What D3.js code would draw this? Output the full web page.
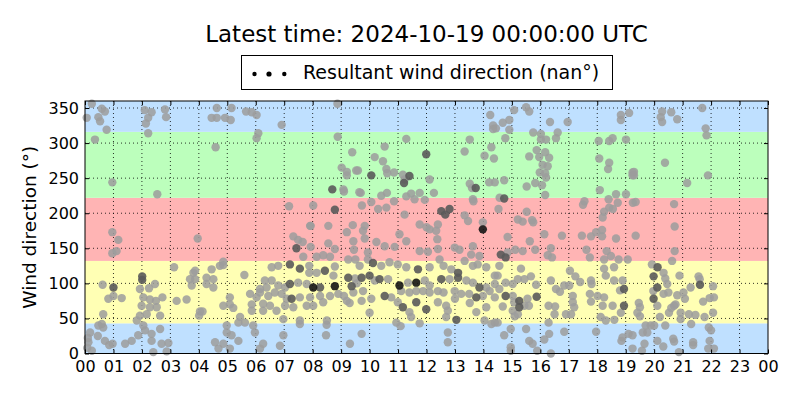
<!DOCTYPE html>
<html>
<head>
<meta charset="utf-8">
<script src="https://cdn.jsdelivr.net/npm/d3@7"></script>
<style>
  body { margin: 0; background: #fff; }
  text { font-family: "DejaVu Sans", sans-serif; }
</style>
</head>
<body>
<div id="chart"></div>
<script>
// chart data
var titleText = "Latest time: 2024-10-19 00:00:00 UTC";
var legendText = "Resultant wind direction (nan°)";
var yLabelText = "Wind direction (°)";
var yTicks = [0, 50, 100, 150, 200, 250, 300, 350];
var xTicks = d3.range(0, 25);
var xTickLabels = ["00","01","02","03","04","05","06","07","08","09","10","11","12",
                   "13","14","15","16","17","18","19","20","21","22","23","00"];
// sector edges (degrees) for the coloured bands
var bandEdges = [0, 43, 132, 222, 316, 360];

// [hour, direction, shade] shade: 0 light, 1 dark, 2 black
var points = [
  [0.24,356,0],[0.59,349,0],[0.70,345,0],[0.47,337,0],[0.53,331,0],[0.06,336,0],[0.76,319,0],[0.35,305,0],[0.96,244,0],
  [0.96,173,0],[1.17,162,0],[1.11,146,0],[0.96,143,0],[1.0,94,1],[1.0,82,0],[0.82,78,0],[1.29,79,0],[0.62,98,0],
  [0.64,56,0],[0.59,42,0],[0.64,37,0],[0.70,18,0],[0.97,14,0],[0.18,30,0],[0.12,16,0],[0.24,4,0],[0.47,40,0],
  [0.08,8,0],[0.10,22,0],[0.45,25,0],[0.85,12,0],
  [2.54,227,0],[2.34,344,0],[2.22,336,0],[2.81,348,0],[2.85,337,0],[2.22,314,0],[2.14,328,0],[2.10,347,0],
  [3.96,164,0],[3.13,123,0],[3.81,115,0],[3.87,106,0],[3.75,97,0],[4.27,108,0],[4.45,120,0],[4.51,94,0],[4.74,125,0],
  [2.01,110,1],[2.01,105,1],[1.93,92,0],[2.25,93,0],[2.46,99,0],[2.72,80,0],[2.49,75,0],[2.28,77,0],[2.05,80,0],
  [1.99,68,0],[2.28,66,0],[2.52,66,0],[2.64,54,0],[2.17,56,0],[1.93,54,0],[1.82,47,0],[2.11,33,0],[1.87,26,0],
  [1.64,18,0],[1.41,14,0],[2.34,18,0],[2.69,14,0],[2.93,15,0],[2.40,2,0],[2.87,3,0],[2.34,28,0],[2.64,35,0],[2.05,40,0],
  [3.22,75,0],[3.57,77,0],[4.04,60,0],[4.01,54,0],[4.13,60,0],[4.57,16,0],[4.69,7,0],[4.27,99,0],[4.51,106,0],
  [3.69,106,0],[3.87,118,0],
  [4.63,350,0],[4.45,336,0],[4.63,336,0],[4.59,294,0],
  [5.15,350,0],[4.92,336,0],[5.12,333,0],[5.66,345,0],[5.86,344,0],[6.03,340,0],[6.91,326,0],[6.09,314,0],[6.03,307,0],
  [8.87,356,0],[8.88,309,0],[9.39,287,0],[9.02,265,0],[9.20,259,0],[9.20,254,0],[9.53,261,0],[8.69,234,1],[9.08,234,0],
  [9.10,231,0],[9.64,230,0],[7.17,210,0],[8.02,211,0],[8.78,205,1],[7.93,182,0],[8.55,182,0],[9.41,183,0],
  [7.91,182,0],[7.32,167,0],[7.49,162,0],[7.65,159,0],[7.43,150,1],[7.93,152,0],[8.55,157,0],[8.78,149,0],[9.20,173,0],
  [9.43,160,0],[9.45,148,0],[7.67,138,0],[8.14,138,0],[8.37,140,0],[8.61,138,0],[9.25,134,0],[9.50,134,0],
  [4.86,131,0],[4.86,126,0],[5.60,112,0],[6.56,123,0],[6.79,125,0],[7.20,127,1],[7.55,121,1],[7.88,125,0],[7.88,115,0],
  [8.14,115,0],[8.43,118,1],[8.73,111,0],[8.78,124,0],[9.25,108,1],[9.49,107,0],[9.55,100,0],[9.37,96,1],[8.78,96,2],
  [8.02,94,2],[8.26,94,1],[7.79,99,0],[7.49,101,0],[7.20,99,1],[7.03,94,0],[6.79,97,0],[6.56,104,0],[6.32,104,0],
  [6.38,94,0],[6.15,92,0],[6.15,87,0],[6.44,82,0],[6.67,87,0],[6.91,85,0],[7.09,78,0],[7.26,78,1],[7.55,80,0],
  [7.91,80,0],[8.26,82,0],[8.61,82,0],[8.90,85,0],[9.10,82,0],[9.20,75,0],[9.43,87,0],[7.79,68,0],[8.02,68,0],
  [8.37,73,0],[7.32,66,0],[7.03,68,0],[6.73,61,0],[6.50,68,0],[6.26,61,0],[6.26,71,0],[5.80,85,0],[6.03,80,0],
  [5.86,70,0],[5.86,61,0],[5.09,80,0],[5.09,70,0],[5.21,65,0],[4.86,68,0],[5.45,52,0],[5.39,44,0],[5.62,44,0],
  [5.91,40,0],[5.97,30,0],[4.98,40,0],[4.98,30,0],[5.15,26,0],[4.86,14,0],[5.09,7,0],[5.39,18,0],[6.26,14,0],
  [6.15,7,0],[6.85,11,0],[6.97,26,0],[6.97,49,0],[7.55,42,0],[7.55,47,0],[8.49,41,0],[8.47,26,0],[9.31,14,0],
  [8.50,47,0],[9.30,72,0],
  [14.24,340,0],[14.34,325,0],[14.34,320,0],[11.29,306,0],[13.52,305,0],[10.53,295,0],[14.28,294,0],[13.34,288,0],
  [11.99,284,1],[14.04,282,0],[14.37,278,0],[10.18,280,0],[10.47,274,0],[10.59,263,0],[10.62,257,0],[10.86,258,0],
  [10.06,254,1],[9.59,261,0],[11.17,255,0],[11.40,253,1],[11.23,248,0],[11.21,243,1],[12.11,248,0],[9.69,229,0],
  [10.41,225,0],[10.61,229,0],[11.29,224,0],[11.46,228,0],[11.76,229,0],[11.58,220,0],[12.26,229,0],[11.94,219,0],
  [13.52,242,0],[13.73,236,1],[13.60,236,0],[13.63,220,0],[13.65,217,0],[14.40,244,0],[14.20,244,0],[9.73,211,0],
  [10.06,216,0],[10.30,206,0],[10.59,208,0],[10.86,217,0],[12.52,203,1],[12.66,198,1],[12.81,206,1],[13.34,197,0],
  [13.46,189,0],[13.98,187,0],[11.23,198,0],[11.76,184,0],[12.40,184,0],[9.83,182,0],[12.00,180,0],
  [13.98,177,2],[9.77,175,0],[9.83,164,0],[10.24,159,0],[10.53,153,0],[10.88,152,0],[11.05,170,0],[11.29,160,0],
  [12.11,177,0],[12.34,175,0],[12.38,163,0],[11.76,146,0],[12.05,145,0],[12.40,149,0],[12.99,151,0],[13.16,148,0],
  [13.63,153,0],[13.57,141,0],[13.86,139,0],[9.94,144,0],[9.94,134,0],[10.12,129,1],[9.65,125,0],[10.41,125,0],
  [10.70,130,0],[10.99,127,0],[11.29,123,0],[11.70,120,1],[12.11,123,0],[12.46,134,0],[12.60,125,0],[12.87,120,0],
  [13.11,115,1],[13.34,132,0],[13.63,125,0],[13.80,127,0],[14.10,123,0],[14.40,111,0],[9.72,108,1],[10.00,111,1],
  [10.18,104,0],[10.35,106,1],[10.65,106,0],[11.05,97,2],[11.35,101,0],[11.64,101,2],[11.94,104,0],[12.11,97,0],
  [12.52,106,1],[12.81,106,0],[13.11,108,1],[13.40,104,0],[13.63,101,0],[13.86,94,1],[14.10,94,0],[14.40,99,0],
  [9.77,89,0],[10.06,78,0],[10.53,82,1],[10.76,80,0],[11.11,89,0],[11.40,87,0],[11.64,89,0],[11.88,89,0],
  [12.11,87,0],[12.40,89,0],[12.60,87,0],[12.99,89,0],[13.22,85,0],[13.50,85,0],[13.75,80,1],[13.98,82,0],
  [14.22,89,0],[14.40,80,0],[9.72,75,0],[10.99,73,0],[11.17,66,1],[11.64,73,1],[11.99,63,1],[11.40,59,0],
  [11.46,52,0],[12.69,68,0],[12.75,61,0],[12.40,73,0],[13.00,78,0],[13.52,72,0],[13.75,59,0],[14.10,66,0],
  [14.04,47,0],[13.05,48,1],[12.69,52,0],[11.76,43,0],[10.94,44,0],[11.09,39,0],[10.00,58,0],[9.72,28,0],
  [12.75,16,0],[12.75,30,0],[14.28,42,0],[14.40,44,0],
  [15.08,347,0],[15.50,351,0],[15.61,345,0],[14.91,333,0],[14.68,329,0],[14.91,319,0],[14.77,307,0],[15.75,315,0],
  [16.02,313,0],[16.02,305,0],[16.20,305,0],[16.34,330,0],[16.61,315,0],[16.55,307,0],[16.96,330,0],[15.61,281,0],
  [15.87,290,0],[15.96,280,0],[16.17,287,0],[16.31,279,0],[16.08,269,0],[16.26,267,0],[16.17,257,0],[15.98,258,0],
  [16.20,251,0],[14.73,247,0],[15.82,243,0],[16.06,240,0],[15.52,238,0],[16.17,226,0],[14.57,222,0],[14.73,221,1],
  [14.53,206,0],[15.52,202,0],[15.21,191,0],[15.38,188,0],[15.71,190,0],[15.75,187,0],[18.05,303,0],[18.42,303,0],
  [18.54,307,0],[19.01,305,0],[18.83,340,0],[18.83,333,0],[19.12,343,0],[18.07,278,0],[18.42,272,0],[18.38,263,0],
  [19.24,258,0],[19.24,254,0],[18.09,233,0],[19.01,227,0],[18.66,227,0],[18.40,220,0],[18.72,215,0],[17.55,217,0],
  [17.50,212,0],[18.42,208,0],[18.55,206,0],[18.24,202,0],[18.19,194,0],[19.25,215,0],[14.44,321,0],
  [14.85,166,0],[15.63,160,0],[16.14,170,0],[16.76,168,0],[17.46,168,0],[17.78,167,0],[17.96,173,0],[18.17,176,0],
  [18.17,167,0],[18.66,164,0],[14.61,141,1],[14.78,137,1],[14.85,144,0],[15.12,148,0],[15.38,146,0],[15.82,148,0],
  [16.37,150,0],[16.26,140,0],[16.41,137,0],[17.62,148,0],[17.74,137,0],[18.33,146,0],[18.48,139,0],[18.24,134,0],
  [18.75,134,0],[19.07,134,0],[14.56,125,0],[15.32,121,0],[14.50,111,0],[14.78,101,0],[15.03,99,0],[15.21,106,0],
  [15.44,106,0],[15.67,110,0],[15.85,98,0],[14.56,92,0],[14.78,82,1],[15.03,82,0],[15.08,73,0],[15.26,75,1],
  [15.55,78,0],[15.87,81,1],[14.68,67,0],[15.26,66,1],[15.44,68,0],[15.60,68,0],[15.03,61,0],[15.21,56,0],
  [15.10,53,0],[16.37,104,0],[16.55,92,0],[16.69,88,0],[16.84,97,0],[17.02,97,0],[17.04,118,0],[17.23,110,0],
  [17.40,102,0],[17.14,82,0],[17.14,73,0],[17.19,66,0],[17.08,56,0],[16.90,56,0],[16.29,68,0],[16.52,67,0],
  [16.50,56,0],[17.78,104,0],[17.80,99,0],[17.74,85,0],[18.01,82,0],[17.78,74,0],[18.24,80,0],[18.19,68,0],
  [18.54,68,0],[18.24,121,0],[18.59,123,0],[18.30,111,0],[18.59,104,0],[18.89,104,0],[18.94,92,1],[18.80,90,0],
  [18.94,68,1],[18.83,58,0],[18.12,52,0],[18.30,47,0],[18.60,48,0],[16.29,44,0],[14.50,44,0],[14.96,35,0],
  [14.73,26,0],[15.50,35,0],[15.61,18,0],[15.73,14,0],[14.96,9,0],[14.96,4,0],[15.89,4,0],[16.37,0,0],
  [16.31,28,0],[16.14,20,0],[16.84,31,0],[17.96,31,0],[18.89,23,0],[18.85,18,0],[19.10,28,0],[19.24,26,0],[19.24,7,0],
  [20.28,345,0],[20.23,337,0],[20.28,330,0],[20.60,344,0],[20.81,334,0],[21.69,350,0],[21.81,321,0],[21.84,311,0],
  [20.38,272,0],[21.89,254,0],[21.16,243,0],[19.29,259,0],[19.29,254,0],[19.35,216,0],[20.70,213,0],[20.72,181,0],
  [19.35,168,0],[20.72,146,0],[20.63,132,0],[19.92,127,0],[20.12,123,1],[20.33,115,0],[19.98,110,1],[20.39,107,0],
  [20.89,111,0],[21.56,110,0],[21.60,106,0],[21.61,98,1],[21.28,94,0],[20.46,99,0],[20.11,94,1],[19.97,89,0],
  [20.33,85,0],[20.50,87,0],[20.81,83,0],[21.03,87,0],[21.08,78,0],[22.07,96,0],[22.10,80,0],[21.95,79,0],
  [21.72,74,0],[19.98,78,1],[20.11,68,0],[20.70,68,0],[20.75,70,0],[20.60,65,0],[19.46,72,0],[19.50,66,0],
  [19.41,58,0],[19.50,53,0],[20.52,58,0],[20.20,52,0],[20.93,58,0],[21.22,56,0],[21.45,55,0],[20.93,49,0],
  [21.30,42,0],[21.77,52,0],[22.07,58,0],[21.92,37,0],[22.00,33,0],[21.95,18,0],[22.10,7,0],[21.90,7,0],
  [21.37,16,0],[21.37,12,0],[20.67,21,0],[20.70,17,0],[20.32,10,0],[20.11,18,0],[19.70,40,0],[19.88,40,0],
  [20.00,40,0],[20.39,40,0],[19.76,30,0],[19.60,30,0],[19.66,14,0],[19.57,4,0],[20.87,2,0]
];

var width = 800, height = 400;
var margin = { top: 101, right: 32, bottom: 46.5, left: 85 };
var plotW = width - margin.left - margin.right;
var plotH = height - margin.top - margin.bottom;

var svg = d3.select('#chart').append('svg')
  .attr('width', width)
  .attr('height', height);

var x = d3.scaleLinear().domain([0, 24]).range([0, plotW]);
var y = d3.scaleLinear().domain([0, 360]).range([plotH, 0]);

var g = svg.append('g')
  .attr('transform', 'translate(' + margin.left + ',' + margin.top + ')');

// coloured direction bands (N, E, S, W, N)
var bandColors = ['#bfe0ff', '#ffffb4', '#ffb4b4', '#bcffbc', '#bfe0ff'];
var bands = d3.pairs(bandEdges);
g.selectAll('rect.band')
  .data(bands)
  .enter().append('rect')
  .attr('class', 'band')
  .attr('x', 0)
  .attr('width', plotW)
  .attr('y', function(d) { return y(d[1]); })
  .attr('height', function(d) { return y(d[0]) - y(d[1]); })
  .attr('fill', function(d, i) { return bandColors[i]; });

// dotted grid
g.selectAll('line.hgrid')
  .data(yTicks.filter(function(t) { return t > 0; }))
  .enter().append('line')
  .attr('x1', 0).attr('x2', plotW)
  .attr('y1', function(d) { return y(d); })
  .attr('y2', function(d) { return y(d); })
  .attr('stroke', '#000')
  .attr('stroke-width', 0.8)
  .attr('stroke-dasharray', '1,3');
g.selectAll('line.vgrid')
  .data(xTicks.filter(function(t) { return t > 0 && t < 24; }))
  .enter().append('line')
  .attr('y1', 0).attr('y2', plotH)
  .attr('x1', function(d) { return x(d); })
  .attr('x2', function(d) { return x(d); })
  .attr('stroke', '#000')
  .attr('stroke-width', 0.8)
  .attr('stroke-dasharray', '1,3');

// scatter points, lighter ones first
var shadeColor = ['#9c9c9c', '#5a5a5a', '#151515'];
var sorted = points.slice().sort(function(a, b) { return a[2] - b[2]; });
g.append('g').selectAll('circle')
  .data(sorted)
  .enter().append('circle')
  .attr('cx', function(d) { return x(d[0]); })
  .attr('cy', function(d) { return y(d[1]); })
  .attr('r', 4.2)
  .attr('fill', function(d) { return shadeColor[d[2]]; })
  .attr('fill-opacity', function(d) { return d[2] == 0 ? 0.85 : 0.9; });

// axes, ticks pointing inward like the classic style
var xAxis = d3.axisBottom(x).tickValues(xTicks)
  .tickFormat(function(d, i) { return xTickLabels[i]; })
  .tickSizeInner(-4).tickSizeOuter(0).tickPadding(7);
var yAxis = d3.axisLeft(y).tickValues(yTicks)
  .tickSizeInner(-4).tickSizeOuter(0).tickPadding(6);

var gx = g.append('g').attr('transform', 'translate(0,' + plotH + ')').call(xAxis);
var gy = g.append('g').call(yAxis);
g.append('g').call(d3.axisTop(x).tickValues(xTicks).tickFormat('').tickSizeInner(-4).tickSizeOuter(0));
g.append('g').attr('transform', 'translate(' + plotW + ',0)')
  .call(d3.axisRight(y).tickValues(yTicks).tickFormat('').tickSizeInner(-4).tickSizeOuter(0));

g.selectAll('.domain').remove();
g.selectAll('.tick line').attr('stroke', '#000');
[gx, gy].forEach(function(a) {
  a.selectAll('text')
    .attr('fill', '#000')
    .style('font-size', '16px')
    .style('font-family', '"DejaVu Sans", sans-serif');
});

// frame
g.append('rect')
  .attr('width', plotW)
  .attr('height', plotH)
  .attr('fill', 'none')
  .attr('stroke', '#000')
  .attr('stroke-width', 1);

// y label
svg.append('text')
  .attr('transform', 'translate(36,' + (margin.top + plotH / 2) + ') rotate(-90)')
  .attr('text-anchor', 'middle')
  .style('font-size', '18.5px')
  .text(yLabelText);

// title
svg.append('text')
  .attr('x', margin.left + plotW / 2)
  .attr('y', 42)
  .attr('text-anchor', 'middle')
  .style('font-size', '23px')
  .text(titleText);

// legend
var leg = svg.append('g');
leg.append('rect')
  .attr('x', 241.5).attr('y', 55.5)
  .attr('width', 371).attr('height', 34)
  .attr('fill', '#fff')
  .attr('stroke', '#000')
  .attr('stroke-width', 1);
var legendDots = [[254.5, 2.2], [269, 2.6], [284.3, 2.2]];
leg.selectAll('circle')
  .data(legendDots)
  .enter().append('circle')
  .attr('cx', function(d) { return d[0]; })
  .attr('cy', 74)
  .attr('r', function(d) { return d[1]; })
  .attr('fill', '#000');
leg.append('text')
  .attr('x', 303)
  .attr('y', 78.5)
  .style('font-size', '19px')
  .text(legendText);
</script>
</body>
</html>
